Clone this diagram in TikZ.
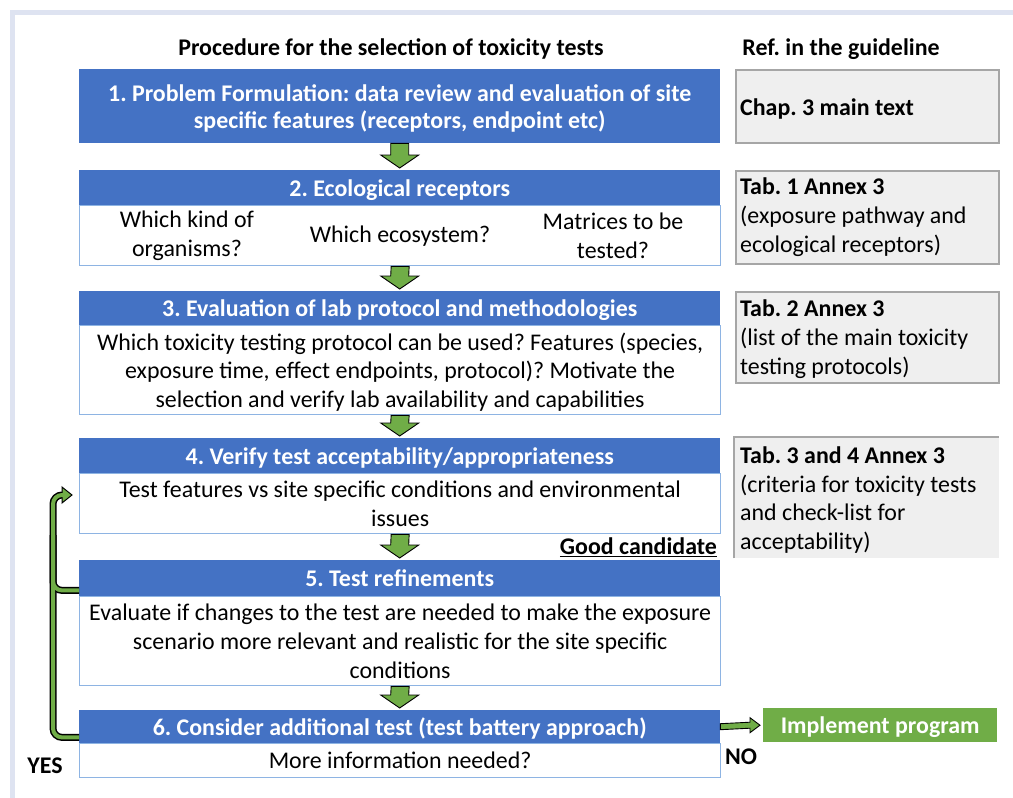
\documentclass[tikz,border=0pt]{standalone}
\usepackage{fontspec}
\setmainfont{Carlito}
\usetikzlibrary{calc}
\definecolor{hblue}{HTML}{4472C4}
\definecolor{bborder}{HTML}{8EB4E3}
\definecolor{gr}{HTML}{70AD47}
\definecolor{gfill}{HTML}{EFEFEF}
\definecolor{gline}{HTML}{A6A6A6}
\definecolor{framec}{HTML}{DEE3F1}
\frenchspacing
% green block arrow from anchor #1 down to anchor #2, named #3
\newcommand\gdownarrow[3]{%
  \coordinate (#3t) at ($(#2)+(0,-2)$);
  \draw[blockarrow] ($(#1)+(-9,0)$) -- ($(#3t)+(-9,-13)$) -- ($(#3t)+(-19,-13)$) -- (#3t)
    -- ($(#3t)+(19,-13)$) -- ($(#3t)+(9,-13)$) -- ($(#1)+(9,0)$) -- cycle;}
\begin{document}
\begin{tikzpicture}[x=1bp,y=-1bp,
  every node/.style={inner sep=0pt, font=\fontsize{24}{29}\selectfont},
  hdr/.style={fill=hblue, text=white, font=\fontsize{24}{27}\selectfont\bfseries, anchor=north west, minimum width=641bp, align=center, text depth=0pt},
  bodybox/.style={draw=bborder, line width=1.3bp, fill=white, anchor=north west, minimum width=641bp, align=center, font=\fontsize{24}{29}\selectfont, text depth=0pt},
  refbox/.style={fill=gfill, draw=gline, line width=2bp, anchor=north west, minimum width=263bp},
  reftext/.style={anchor=west, align=left, font=\fontsize{24}{29}\selectfont},
  blockarrow/.style={draw=black, line width=0.9bp, fill=gr, line join=miter},
  lbl/.style={font=\fontsize{24}{27}\selectfont\bfseries}
]
\useasboundingbox (0,0) rectangle (1013,798);
\clip (0,0) rectangle (1013,798);
\fill[white] (0,0) rectangle (1013,798);
\draw[framec, line width=4.5bp] (12.5,820) -- (12.5,12.5) -- (1030,12.5);

% titles
\node[lbl] (t1) at (391,49) {Procedure for the selection of toxicity tests};
\node[lbl] (t2) at (841,49) {Ref. in the guideline};

% step 1
\node[hdr, minimum height=74bp] (b1) at (79,69) {1. Problem Formulation: data review and evaluation of site\\specific features (receptors, endpoint etc)};

% step 2
\node[hdr, minimum height=35bp] (h2) at (79,170) {2. Ecological receptors};
\node[bodybox, minimum height=60bp] (b2) at (79,205) {};
\node[align=center] (q1) at (187,236) {Which kind of\\organisms?};
\node[align=center] (q2) at (400,236) {Which ecosystem?};
\node[align=center] (q3) at (613,236) {Matrices to be\\tested?};

% step 3
\node[hdr, minimum height=34bp] (h3) at (79,291) {3. Evaluation of lab protocol and methodologies};
\node[bodybox, minimum height=89bp] (b3) at (79,325) {Which toxicity testing protocol can be used? Features (species,\\exposure time, effect endpoints, protocol)? Motivate the\\selection and verify lab availability and capabilities};

% step 4
\node[hdr, minimum height=35bp] (h4) at (79,438) {4. Verify test acceptability/appropriateness};
\node[bodybox, minimum height=60bp] (b4) at (79,473) {Test features vs site specific conditions and environmental\\issues};

% step 5
\node[hdr, minimum height=36bp] (h5) at (79,560) {5. Test refinements};
\node[bodybox, minimum height=89bp] (b5) at (79,596) {Evaluate if changes to the test are needed to make the exposure\\scenario more relevant and realistic for the site specific\\conditions};

% step 6
\node[hdr, minimum height=33bp] (h6) at (79,710) {6. Consider additional test (test battery approach)};
\node[bodybox, minimum height=34bp] (b6) at (79,743) {More information needed?};

% implement
\node[fill=gr, text=white, font=\fontsize{24}{27}\selectfont\bfseries, anchor=north west, minimum width=234bp, minimum height=34bp, text depth=0pt] (impl) at (763,708) {Implement program};

% down arrows
\gdownarrow{b1.south}{h2.north}{a1}
\gdownarrow{b2.south}{h3.north}{a2}
\gdownarrow{b3.south}{h4.north}{a3}
\gdownarrow{b4.south}{h5.north}{a4}
\gdownarrow{b5.south}{h6.north}{a5}

% NO arrow
\coordinate (nt) at ($(impl.west)+(-3,0)$);
\draw[blockarrow] ($(h6.east)+(0,-3)$) -- ($(nt)+(-10,-3)$) -- ($(nt)+(-10,-7.5)$) -- (nt)
  -- ($(nt)+(-10,7.5)$) -- ($(nt)+(-10,3)$) -- ($(h6.east)+(0,3)$) -- cycle;

% labels
\node[lbl, anchor=east] (gc) at (717,547) {\underline{Good candidate}};
\node[lbl] (no) at (741,757) {NO};
\node[lbl] (yes) at (45,766) {YES};

% YES loop
\coordinate (l6) at ($(h6.south west)+(0,-6)$);
\coordinate (l5) at ($(h5.south west)+(0,-6)$);
\coordinate (lend) at ($(b4.north west)+(-7,22)$);
\draw[black, line width=7bp, rounded corners=9bp] (l6) -| ($(lend)+(-19,0)$) -- ($(lend)+(-8,0)$);
\draw[black, line width=7bp, rounded corners=9bp] (l5) -| ($(lend)+(-19,40)$);
\draw[fill=gr, line width=1bp, line join=miter] (lend) -- ++(-10,-8) -- ++(0,16) -- cycle;
\draw[gr, line width=4bp, rounded corners=9bp] (l6) -| ($(lend)+(-19,0)$) -- ($(lend)+(-7,0)$);
\draw[gr, line width=4bp, rounded corners=9bp] (l5) -| ($(lend)+(-19,40)$);

% reference boxes
\node[refbox, minimum height=73bp] (r1) at (735,69) {};
\node[reftext, font=\fontsize{24}{29}\selectfont\bfseries] (r1t) at (740,109) {Chap. 3 main text};
\node[refbox, minimum height=93bp] (r2) at (735,170) {};
\node[reftext] (r2t) at (740,217) {\textbf{Tab. 1 Annex 3}\\(exposure pathway and\\ecological receptors)};
\node[refbox, minimum height=91bp] (r3) at (735,291) {};
\node[reftext] (r3t) at (740,339) {\textbf{Tab. 2 Annex 3}\\(list of the main toxicity\\testing protocols)};
\node[fill=gfill, anchor=north west, minimum width=265bp, minimum height=121bp] (r4) at (734,437) {};
\draw[gline, line width=2bp] (r4.south west) -- (r4.north west) -- (r4.north east);
\node[reftext] (r4t) at (740,500) {\textbf{Tab. 3 and 4 Annex 3}\\(criteria for toxicity tests\\and check-list for\\acceptability)};
\end{tikzpicture}
\end{document}
